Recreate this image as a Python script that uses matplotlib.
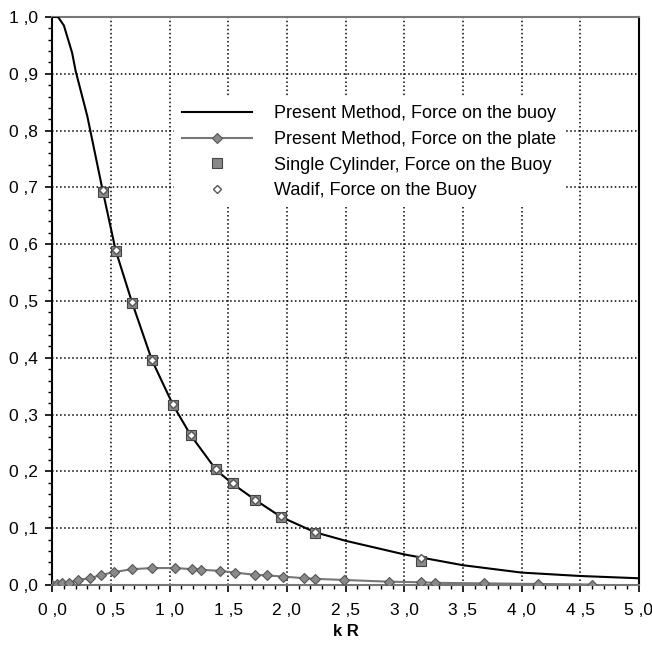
import numpy as np
import matplotlib
matplotlib.use("Agg")
import matplotlib.pyplot as plt
from matplotlib.ticker import MultipleLocator, FuncFormatter

# Present Method, force on the buoy (solid line)
buoy_x = [0.0, 0.05, 0.1, 0.17, 0.2, 0.3, 0.43, 0.54, 0.68, 0.85, 1.03, 1.18, 1.4,
          1.54, 1.73, 1.95, 2.24, 2.5, 3.0, 3.5, 4.0, 4.5, 5.0]
buoy_y = [1.0, 1.0, 0.985, 0.937, 0.905, 0.825, 0.695, 0.59, 0.498, 0.396, 0.317, 0.264, 0.202,
          0.178, 0.150, 0.120, 0.093, 0.078, 0.054, 0.035, 0.022, 0.016, 0.012]

# Present Method, force on the plate (line + diamonds)
plate_x = [0.0, 0.04, 0.08, 0.14, 0.22, 0.32, 0.42, 0.53, 0.68, 0.85, 1.05, 1.19, 1.27,
           1.43, 1.56, 1.73, 1.83, 1.97, 2.15, 2.24, 2.49, 2.87, 3.14, 3.26, 3.68, 4.14, 4.6]
plate_y = [0.001, 0.002, 0.003, 0.004, 0.009, 0.012, 0.018, 0.023, 0.028, 0.030, 0.030, 0.028, 0.027,
           0.025, 0.022, 0.018, 0.017, 0.015, 0.012, 0.011, 0.009, 0.006, 0.005, 0.004, 0.003, 0.002, 0.001]

# Single cylinder, force on the buoy (squares)
cyl_x = [0.43, 0.54, 0.68, 0.85, 1.03, 1.18, 1.4, 1.54, 1.73, 1.95, 2.24, 3.14]
cyl_y = [0.692, 0.588, 0.497, 0.396, 0.317, 0.265, 0.204, 0.180, 0.149, 0.120, 0.092, 0.042]

# Wadif, force on the buoy (open diamonds)
wad_x = [0.43, 0.54, 0.68, 0.85, 1.03, 1.18, 1.4, 1.54, 1.73, 1.95, 2.24, 3.14]
wad_y = [0.695, 0.590, 0.498, 0.396, 0.318, 0.265, 0.204, 0.180, 0.150, 0.121, 0.094, 0.048]

plt.rcParams['font.family'] = ['Liberation Sans', 'DejaVu Sans']

fig = plt.figure(figsize=(6.52, 6.53), dpi=100)
ax = fig.add_axes([0.08, 0.104, 0.90, 0.870])

ax.plot(buoy_x, buoy_y, color='black', lw=1.5, label='Present Method, Force on the buoy', zorder=3)
ax.plot(plate_x, plate_y, color='#777777', lw=1.5, marker='D', ms=5,
        mfc='#8a8a8a', mec='#555555', mew=0.8, label='Present Method, Force on the plate', zorder=3)
ax.plot(cyl_x, cyl_y, ls='none', marker='s', ms=7, mfc='#888888', mec='#444444', mew=0.8,
        label='Single Cylinder, Force on the Buoy', zorder=4)
ax.plot(wad_x, wad_y, ls='none', marker='D', ms=4, mfc='white', mec='#555555', mew=1.0,
        label='Wadif, Force on the Buoy', zorder=5)

ax.set_xlim(0, 5)
ax.set_ylim(0, 1)
ax.xaxis.set_major_locator(MultipleLocator(0.5))
ax.xaxis.set_minor_locator(MultipleLocator(0.1))
ax.yaxis.set_major_locator(MultipleLocator(0.1))
ax.yaxis.set_minor_locator(MultipleLocator(0.02))
fmt = FuncFormatter(lambda v, p: f"{v:.1f}".replace('.', ' ,'))
ax.xaxis.set_major_formatter(fmt)
ax.yaxis.set_major_formatter(fmt)
ax.tick_params(which='major', direction='out', length=5, width=1.2, labelsize=12.5)
ax.tick_params(which='minor', direction='out', length=3, width=1.0)
ax.tick_params(axis='x', which='major', pad=8)
ax.tick_params(axis='y', which='major', pad=5)

ax.grid(True, which='major', ls=':', color='black', lw=1.1)

for side in ['left', 'right']:
    ax.spines[side].set_linewidth(1.5)
    ax.spines[side].set_color('black')
for side in ['top', 'bottom']:
    ax.spines[side].set_linewidth(1.5)
    ax.spines[side].set_color('#777777')

ax.set_xlabel('k R', fontsize=12, fontweight='bold', labelpad=4)

leg = ax.legend(loc='upper left', bbox_to_anchor=(0.207, 0.859), borderaxespad=0,
                fontsize=13, frameon=True, framealpha=1, edgecolor='none', fancybox=False,
                handlelength=3.9, handletextpad=1.2, labelspacing=0.48, borderpad=0.45)
leg.get_frame().set_facecolor('white')

fig.savefig('out.png', dpi=100)
